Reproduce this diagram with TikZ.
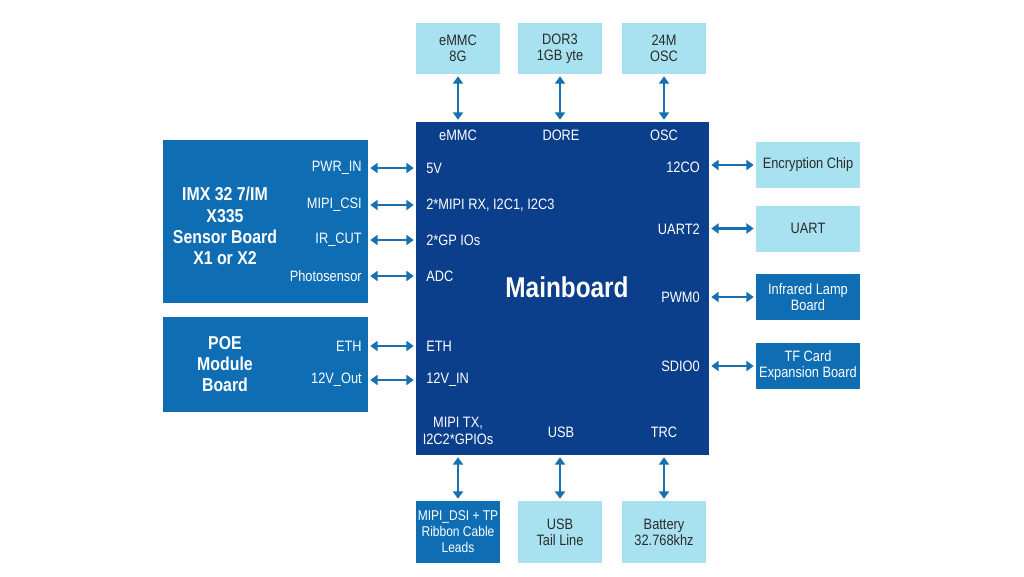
\documentclass[tikz,border=0pt]{standalone}
\usepackage{fontspec}
\setmainfont[FakeStretch=0.85]{Liberation Sans}
\usepackage{tikz}
\usetikzlibrary{arrows.meta}
\usetikzlibrary{positioning}
\definecolor{mbblue}{HTML}{0B3F8C}
\definecolor{midblue}{HTML}{0E6DB3}
\definecolor{paleblue}{HTML}{A8E2F1}
\definecolor{linkblue}{HTML}{1870B0}
\definecolor{darktext}{HTML}{2B2B2B}
\tikzset{
main board/.style = { rectangle, fill = mbblue, minimum width = 219.75pt, minimum height = 249.75pt, inner sep = 0pt },
side board/.style = { rectangle, fill = midblue, minimum width = 153.75pt, inner sep = 0pt },
pale box/.style = { rectangle, fill = paleblue, text = darktext, align = center, inner sep = 0pt, font = \fontsize{11.3}{12}\selectfont },
mid box/.style = { rectangle, fill = midblue, text = white, align = center, inner sep = 0pt, font = \fontsize{11.3}{12}\selectfont },
pin/.style = { text = white, inner sep = 0pt, font = \fontsize{11.3}{12}\selectfont },
title/.style = { text = white, align = center, font = \bfseries\fontsize{14}{16}\selectfont },
link/.style = { linkblue, line width = 1.7pt, {Triangle[length=5.5pt,width=7.5pt]}-{Triangle[length=5.5pt,width=7.5pt]}, shorten < = 1.5pt, shorten > = 1.5pt },
}

\begin{document}
\begin{tikzpicture}[x = 0.75pt, y = -0.75pt]
      \useasboundingbox (0, 0) rectangle (1024, 576);
      % mainboard and its pins
      \node[main board] (mb) at (562.5, 288.5) {};
      \node[title, font = \bfseries\fontsize{21.5}{24}\selectfont] (mbname) at (567, 287) {Mainboard};
      \node[pin] (pemmc) at (458, 135) {eMMC};
      \node[pin] (pdore) at (561, 135) {DORE};
      \node[pin] (posc) at (664, 135) {OSC};
      \node[pin, anchor = west] (p5v) at (426, 168) {5V};
      \node[pin, anchor = west] (pmipirx) at (426, 205) {2*MIPI RX, I2C1, I2C3};
      \node[pin, anchor = west] (pgpio) at (426, 240) {2*GP IOs};
      \node[pin, anchor = west] (padc) at (426, 276) {ADC};
      \node[pin, anchor = west] (peth) at (426, 346) {ETH};
      \node[pin, anchor = west] (p12vin) at (426, 380) {12V\_IN};
      \node[pin, anchor = east] (p12co) at (700, 167) {12CO};
      \node[pin, anchor = east] (puart) at (700, 229) {UART2};
      \node[pin, anchor = east] (ppwm) at (700, 297) {PWM0};
      \node[pin, anchor = east] (psdio) at (700, 366) {SDIO0};
      \node[pin, align = center, font = \fontsize{11.3}{12.6}\selectfont] (pmipitx) at (458, 431) {MIPI TX,\\I2C2*GPIOs};
      \node[pin] (pusb) at (561, 432) {USB};
      \node[pin] (ptrc) at (664, 432) {TRC};

      % top row
      \node[pale box, minimum width = 63pt, minimum height = 38.25pt] (emmc) at (458, 48.5) {eMMC\\8G};
      \node[pale box, minimum width = 63pt, minimum height = 38.25pt] (ddr) at (560, 48.5) {DOR3\\1GB yte};
      \node[pale box, minimum width = 63pt, minimum height = 38.25pt] (osc) at (664, 48.5) {24M\\OSC};

      % sensor board
      \node[side board, minimum height = 122.25pt] (sensor) at (265.5, 221.5) {};
      \node[title] (sensorname) at (225, 226) {IMX 32 7/IM\\X335\\Sensor Board\\X1 or X2};
      \node[pin, anchor = east] (spwr) at (362, 168) {PWR\_IN};
      \node[pin, anchor = east] (scsi) at (362, 205) {MIPI\_CSI};
      \node[pin, anchor = east] (scut) at (362, 240) {IR\_CUT};
      \node[pin, anchor = east] (sphoto) at (362, 276) {Photosensor};

      % poe board
      \node[side board, minimum height = 71.25pt] (poe) at (265.5, 364.5) {};
      \node[title] (poename) at (225, 364) {POE\\Module\\Board};
      \node[pin, anchor = east] (qeth) at (362, 346) {ETH};
      \node[pin, anchor = east] (q12v) at (362, 380) {12V\_Out};

      % right column
      \node[pale box, minimum width = 78pt, minimum height = 34.5pt] (crypt) at (808, 165) {Encryption Chip};
      \node[pale box, minimum width = 78pt, minimum height = 34.5pt] (uart) at (808, 228.5) {UART};
      \node[mid box, minimum width = 78pt, minimum height = 34.5pt] (lamp) at (808, 297) {Infrared Lamp\\Board};
      \node[mid box, minimum width = 78pt, minimum height = 34.5pt] (tf) at (808, 366) {TF Card\\Expansion Board};

      % bottom row
      \node[mid box, minimum width = 63pt, minimum height = 46.5pt, font = \fontsize{10.6}{12}\selectfont] (dsi) at (458, 532) {MIPI\_DSI + TP\\Ribbon Cable\\Leads};
      \node[pale box, minimum width = 63pt, minimum height = 46.5pt] (usb) at (560, 532) {USB\\Tail Line};
      \node[pale box, minimum width = 63pt, minimum height = 46.5pt] (bat) at (664, 532) {Battery\\32.768khz};

      % links
      \draw[link] (emmc.south) -- (emmc.south |- mb.north);
      \draw[link] (ddr.south) -- (ddr.south |- mb.north);
      \draw[link] (osc.south) -- (osc.south |- mb.north);
      \draw[link] (sensor.east |- spwr) -- (mb.west |- spwr);
      \draw[link] (sensor.east |- scsi) -- (mb.west |- scsi);
      \draw[link] (sensor.east |- scut) -- (mb.west |- scut);
      \draw[link] (sensor.east |- sphoto) -- (mb.west |- sphoto);
      \draw[link] (poe.east |- qeth) -- (mb.west |- qeth);
      \draw[link] (poe.east |- q12v) -- (mb.west |- q12v);
      \draw[link] (mb.east |- crypt) -- (crypt.west);
      \draw[link] (mb.east |- uart) -- (uart.west);
      \draw[link] (mb.east |- lamp) -- (lamp.west);
      \draw[link] (mb.east |- tf) -- (tf.west);
      \draw[link] (dsi.north |- mb.south) -- (dsi.north);
      \draw[link] (usb.north |- mb.south) -- (usb.north);
      \draw[link] (bat.north |- mb.south) -- (bat.north);
    \end{tikzpicture}
\end{document}
